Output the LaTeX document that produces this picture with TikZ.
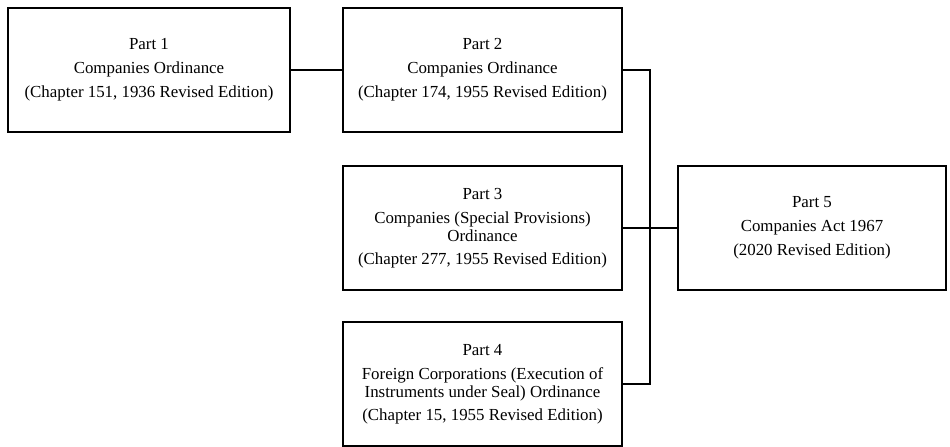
\documentclass[tikz,border=0pt]{standalone}
\usepackage{fontspec}
\setmainfont{Liberation Serif}
\usetikzlibrary{positioning, calc}

\tikzset{
  partbox/.style={draw=black, line width=0.9pt, align=center, inner sep=4pt,
    minimum height=3.1cm, font=\fontsize{12}{12.5}\selectfont},
  link/.style={line width=0.9pt}
}

\begin{document}
\begin{tikzpicture}
  \useasboundingbox (0,0) rectangle (23.75,-11.175);

  % Part 1
  \node[partbox, minimum width=7.05cm] (part1) at (3.725, -1.75) {
    Part 1\\[4pt] Companies Ordinance\\[5pt] (Chapter 151, 1936 Revised Edition)
  };

  % Part 2
  \node[partbox, minimum width=6.975cm] (part2) at (12.0625, -1.75) {
    Part 2\\[4pt] Companies Ordinance\\[5pt] (Chapter 174, 1955 Revised Edition)
  };

  % Part 3
  \node[partbox, minimum width=6.975cm] (part3) at (12.0625, -5.7) {
    Part 3\\[5pt] Companies (Special Provisions)\\ Ordinance\\[4pt] (Chapter 277, 1955 Revised Edition)
  };

  % Part 4
  \node[partbox, minimum width=6.975cm] (part4) at (12.0625, -9.6) {
    Part 4\\[5pt] Foreign Corporations (Execution of\\ Instruments under Seal) Ordinance\\[4pt] (Chapter 15, 1955 Revised Edition)
  };

  % Part 5
  \node[partbox, minimum width=6.7cm] (part5) at (20.3, -5.7) {
    Part 5\\[4pt] Companies Act 1967\\[5pt] (2020 Revised Edition)
  };

  % links
  \coordinate (bus) at (16.25, 0);
  \draw[link] (part1.east) -- (part2.east -| part2.west);
  \draw[link] (part2.east) -- (part2.east -| bus) -- (part4.east -| bus) -- (part4.east);
  \draw[link] (part3.east) -- (part5.west);
\end{tikzpicture}
\end{document}
